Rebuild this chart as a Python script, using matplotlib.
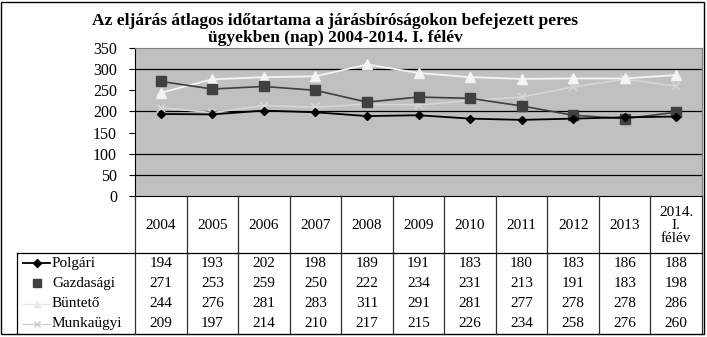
import matplotlib
matplotlib.use("Agg")
import matplotlib.pyplot as plt
import matplotlib.transforms as mtransforms
from matplotlib.patches import Rectangle
from matplotlib.lines import Line2D

# ---- data ----
periods = ["2004", "2005", "2006", "2007", "2008", "2009", "2010",
           "2011", "2012", "2013", "2014.\nI.\nfélév"]
polgari = [194, 193, 202, 198, 189, 191, 183, 180, 183, 186, 188]
gazdasagi = [271, 253, 259, 250, 222, 234, 231, 213, 191, 183, 198]
bunteto = [244, 276, 281, 283, 311, 291, 281, 277, 278, 278, 286]
munkaugyi = [209, 197, 214, 210, 217, 215, 226, 234, 258, 276, 260]
series_names = ["Polgári", "Gazdasági", "Büntető", "Munkaügyi"]
y_ticks = [0, 50, 100, 150, 200, 250, 300, 350]
grid_levels = [50, 100, 200, 300]
title_lines = ["Az eljárás átlagos időtartama a járásbíróságokon befejezett peres",
               "ügyekben (nap) 2004-2014. I. félév"]

W, H = 707, 337
plt.rcParams["font.family"] = ["Liberation Serif", "DejaVu Serif"]

fig = plt.figure(figsize=(W / 100, H / 100), dpi=100)


def fx(px):
    return px / W


def fy(py):
    return 1 - py / H


left, right, top, bottom = 135, 702, 48, 196
ax = fig.add_axes([fx(left), fy(bottom), fx(right) - fx(left), fy(top) - fy(bottom)])
ax.set_facecolor("#c0c0c0")

x = list(range(len(periods)))

for lvl in grid_levels:
    ax.axhline(lvl, color="black", lw=0.9, zorder=1)

values = [polgari, gazdasagi, bunteto, munkaugyi]
styles = [
    dict(color="black", marker="D", ms=4.5, mfc="black", mec="black", lw=1.3),
    dict(color="#404040", marker="s", ms=7, mfc="#404040", mec="#404040", lw=1.2),
    dict(color="#f4f4f4", marker="^", ms=7, mfc="#f4f4f4", mec="#f4f4f4", lw=1.3),
    dict(color="#d6d6d6", marker="x", ms=6, mfc="#d6d6d6", mec="#d6d6d6", lw=1.2, mew=1.2),
]
for i in [3, 2, 1, 0]:
    ax.plot(x, values[i], zorder=3 + (3 - i), **styles[i])

ax.set_xlim(-0.5, len(periods) - 0.5)
ax.set_ylim(0, 350)
ax.set_yticks(y_ticks)
ax.set_yticklabels([str(v) for v in y_ticks], fontsize=11.5)
ax.tick_params(axis="y", direction="out", length=4, width=0.8, pad=9)
ax.set_xticks([])
for side in ("top", "right"):
    ax.spines[side].set_color("#808080")
ax.spines["left"].set_color("black")
ax.spines["bottom"].set_color("black")

# ---- data table below the plot ----
tr = mtransforms.blended_transform_factory(ax.transData, fig.transFigure)
table_top, header_bottom, table_bottom = 196, 253, 334
row_h = (table_bottom - header_bottom) / len(series_names)
table_fs = 11

for b in range(len(periods) + 1):
    fig.add_artist(Line2D([b - 0.5, b - 0.5], [fy(table_top), fy(table_bottom)],
                          transform=tr, color="#303030", lw=0.9))

fig.add_artist(Line2D([fx(17), fx(right)], [fy(header_bottom), fy(header_bottom)],
                      transform=fig.transFigure, color="black", lw=0.9))
fig.add_artist(Line2D([fx(17), fx(17)], [fy(header_bottom), fy(table_bottom)],
                      transform=fig.transFigure, color="black", lw=0.9))

for xi, lab in zip(x, periods):
    fig.text(xi, fy((table_top + header_bottom) / 2 + 1), lab, transform=tr,
             ha="center", va="center", fontsize=table_fs, linespacing=1.05)

legend_lines = [
    dict(color="black", lw=1.3),
    None,
    dict(color="#e6e6e6", lw=1.0),
    dict(color="#d0d0d0", lw=1.0),
]
legend_markers = [
    dict(marker="D", ms=4, mfc="black", mec="black"),
    dict(marker="s", ms=6, mfc="#404040", mec="#404040"),
    dict(marker="^", ms=5, mfc="#e6e6e6", mec="#e6e6e6"),
    dict(marker="x", ms=5, mfc="#c8c8c8", mec="#c8c8c8"),
]
for r, (name, vals) in enumerate(zip(series_names, values)):
    cy = header_bottom + row_h * (r + 0.5)
    if legend_lines[r] is not None:
        fig.add_artist(Line2D([fx(23), fx(50)], [fy(cy), fy(cy)],
                              transform=fig.transFigure, **legend_lines[r]))
    fig.add_artist(Line2D([fx(37)], [fy(cy)], transform=fig.transFigure,
                          linestyle="none", **legend_markers[r]))
    fig.text(fx(52), fy(cy), name, ha="left", va="center", fontsize=table_fs)
    for xi, v in zip(x, vals):
        fig.text(xi, fy(cy), str(v), transform=tr, ha="center", va="center",
                 fontsize=table_fs)

# ---- title ----
fig.text(fx(335), fy(21), title_lines[0], ha="center", va="center",
         fontsize=12.5, fontweight="bold")
fig.text(fx(335), fy(38), title_lines[1], ha="center", va="center",
         fontsize=12.5, fontweight="bold")

# outer frame
fig.add_artist(Rectangle((fx(1), fy(table_bottom)), fx(704) - fx(1), fy(2) - fy(table_bottom),
                         transform=fig.transFigure, fill=False, edgecolor="black", lw=1.0))

fig.savefig("out.png", dpi=100)
